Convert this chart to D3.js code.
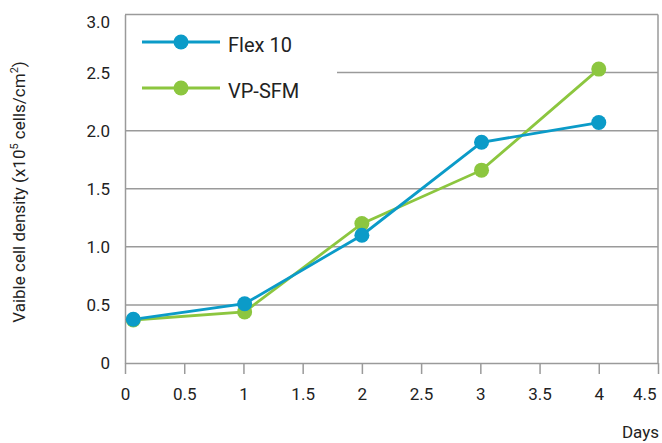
<!DOCTYPE html>
<html>
<head>
<meta charset="utf-8">
<script src="https://cdn.jsdelivr.net/npm/d3@7"></script>
<style>
html,body{margin:0;padding:0;background:#fff;}
svg{display:block;font-family:Roboto, "Noto Sans", sans-serif;}
</style>
</head>
<body>
<svg id="chart" width="662" height="443"></svg>
<script>
const seriesNames = ["Flex 10", "VP-SFM"];
const seriesColors = ["#0b9bc8", "#8cc63f"];
const flexX = [0.07, 1.01, 2, 3.01, 4.0];
const flexY = [0.376, 0.51, 1.10, 1.90, 2.07];
const vpX = [0.07, 1.01, 2, 3.01, 4.0];
const vpY = [0.37, 0.44, 1.20, 1.66, 2.53];
const xTicks = [0, 0.5, 1, 1.5, 2, 2.5, 3, 3.5, 4, 4.5];
const yTicks = [0, 0.5, 1.0, 1.5, 2.0, 2.5, 3.0];
const xLabel = "Days";

(function () {
const svg = d3.select("#chart");
const mL = 125, mR = 658, mT = 14.5, mB = 363;
const x = d3.scaleLinear().domain([0, 4.5]).range([mL, mR]);
const y = d3.scaleLinear().domain([0, 3]).range([mB, mT]);
const grid = "#9a9a9a";

// gridlines
svg.append("g").selectAll("line").data(yTicks.filter(d => d > 0)).join("line")
  .attr("x1", d => d === 2.5 ? 337 : mL).attr("x2", mR)
  .attr("y1", d => y(d)).attr("y2", d => y(d))
  .attr("stroke", grid).attr("stroke-width", 1.5);
// right border
svg.append("line").attr("x1", mR).attr("x2", mR).attr("y1", mT).attr("y2", mB)
  .attr("stroke", grid).attr("stroke-width", 1.5);

// x axis
const xa = svg.append("g").attr("transform", `translate(0,${mB})`)
  .call(d3.axisBottom(x).tickValues(xTicks).tickSize(11).tickPadding(14)
    .tickFormat(d => d3.format("")(d)));
xa.select(".domain").attr("stroke", grid).attr("stroke-width", 1.5)
  .attr("d", `M${mL},0.5H${mR}`);
xa.selectAll(".tick line").attr("stroke", grid).attr("stroke-width", 1.5);
xa.selectAll(".tick text").attr("font-size", 17).attr("fill", "#222")
  .attr("font-family", "Roboto");
xa.selectAll(".tick").filter(d => d === 4.5).select("text")
  .attr("text-anchor", "end").attr("x", -2);

// y axis
const ya = svg.append("g").attr("transform", `translate(${mL},0)`)
  .call(d3.axisLeft(y).tickValues(yTicks).tickSize(0).tickPadding(15)
    .tickFormat(d => d === 0 ? "0" : d3.format(".1f")(d)));
ya.select(".domain").attr("stroke", grid).attr("stroke-width", 1.5);
ya.selectAll(".tick text").attr("font-size", 17).attr("fill", "#222")
  .attr("font-family", "Roboto");
ya.selectAll(".tick").filter(d => d === 3).select("text").attr("dy", "0.75em");

// axis titles
svg.append("text").attr("x", 659).attr("y", 438).attr("text-anchor", "end")
  .attr("font-size", 17).attr("fill", "#222").text(xLabel);
const yt = svg.append("text").attr("transform", "translate(25,192) rotate(-90)")
  .attr("text-anchor", "middle").attr("font-size", 17).attr("fill", "#222");
yt.append("tspan").text("Vaible cell density (x10");
yt.append("tspan").attr("font-size", 11).attr("dy", -7).text("5");
yt.append("tspan").attr("dy", 7).text(" cells/cm");
yt.append("tspan").attr("font-size", 11).attr("dy", -7).text("2");
yt.append("tspan").attr("dy", 7).text(")");

const line = d3.line().x(d => x(d[0])).y(d => y(d[1]));
const data = [
  d3.zip(vpX, vpY),
  d3.zip(flexX, flexY)
];
const cols = [seriesColors[1], seriesColors[0]];
data.forEach((pts, i) => {
  svg.append("path").datum(pts).attr("d", line).attr("fill", "none")
    .attr("stroke", cols[i]).attr("stroke-width", 2.8);
});
data.forEach((pts, i) => {
  svg.append("g").selectAll("circle").data(pts).join("circle")
    .attr("cx", d => x(d[0])).attr("cy", d => y(d[1])).attr("r", 7.5)
    .attr("fill", cols[i]);
});

// legend
const lg = svg.append("g");
seriesNames.forEach((name, i) => {
  const ly = 42 + i * 46;
  lg.append("line").attr("x1", 142).attr("x2", 220).attr("y1", ly).attr("y2", ly)
    .attr("stroke", seriesColors[i]).attr("stroke-width", 2.8);
  lg.append("circle").attr("cx", 181).attr("cy", ly).attr("r", 7.5).attr("fill", seriesColors[i]);
  lg.append("text").attr("x", 228).attr("y", ly + 9.5).attr("font-size", 20)
    .attr("fill", "#222").text(name);
});
})();
</script>
</body>
</html>
